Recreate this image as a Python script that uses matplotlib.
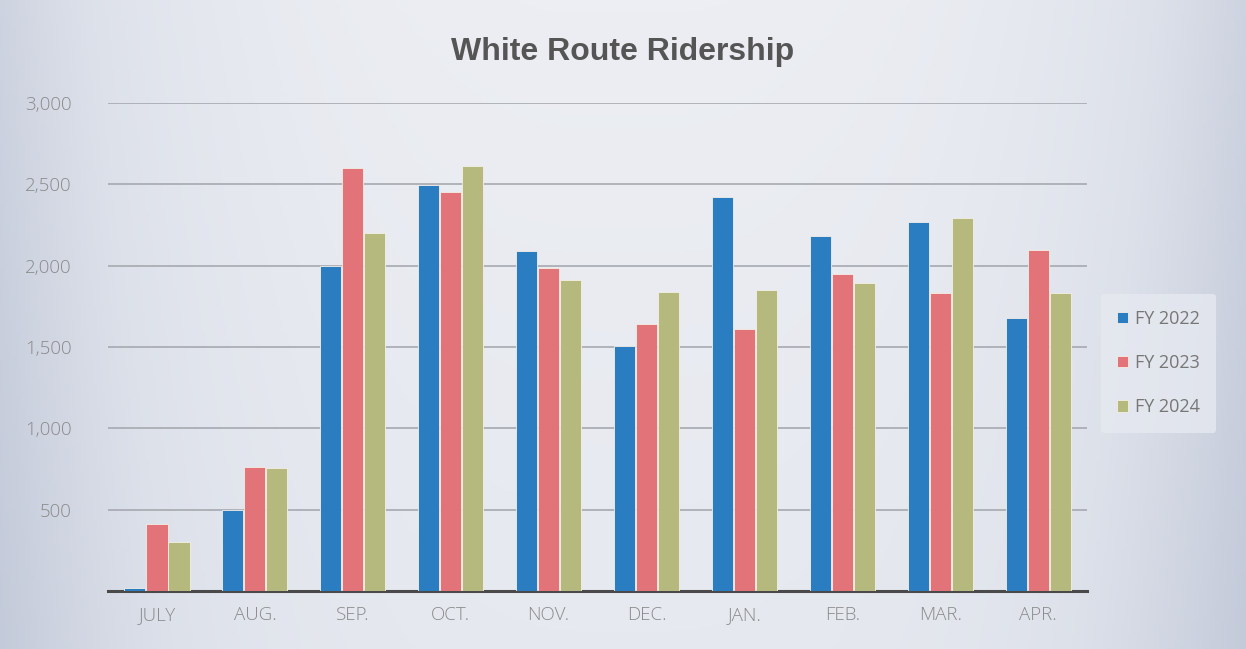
import numpy as np
import matplotlib.pyplot as plt
from matplotlib.colors import LinearSegmentedColormap

months = ['JULY', 'AUG.', 'SEP.', 'OCT.', 'NOV.', 'DEC.', 'JAN.', 'FEB.', 'MAR.', 'APR.']
fy2022 = [20, 500, 2000, 2495, 2090, 1505, 2420, 2180, 2270, 1680]
fy2023 = [410, 765, 2600, 2450, 1985, 1640, 1610, 1950, 1830, 2095]
fy2024 = [300, 755, 2200, 2615, 1910, 1840, 1850, 1895, 2290, 1830]
series = ['FY 2022', 'FY 2023', 'FY 2024']
colors = ['#2b7dc2', '#e27479', '#b6b97e']

fig = plt.figure(figsize=(12.46, 6.49), dpi=100)
fig.patch.set_facecolor('#e3e6ed')

# soft bluish scanned-looking background
bg = fig.add_axes([0, 0, 1, 1], zorder=-10)
yy, xx = np.mgrid[0:1:200j, 0:1:400j]
shade = (np.abs(xx - 0.5) * 2) ** 3 * 0.8 + 0.2 * yy
cmap = LinearSegmentedColormap.from_list('paper', ['#eceef3', '#dde1ea', '#c3cad9'])
bg.imshow(shade, cmap=cmap, vmin=0, vmax=1, aspect='auto', extent=[0, 1, 0, 1])
bg.axis('off')

ax = fig.add_axes([0.0867, 0.0894, 0.7857, 0.7519])
ax.patch.set_alpha(0)

x = np.arange(len(months))
w = 0.215
for i, (vals, name) in enumerate(zip([fy2022, fy2023, fy2024], series)):
    ax.bar(x + (i - 1) * (w + 0.01), vals, width=w, color=colors[i], label=name,
           edgecolor='#f4efe6', linewidth=0.6, zorder=3)

ax.set_xlim(-0.5, len(months) - 0.5)
ax.set_ylim(0, 3000)
ax.set_yticks([500, 1000, 1500, 2000, 2500, 3000])
ax.set_yticklabels(['500', '1,000', '1,500', '2,000', '2,500', '3,000'])
ax.set_xticks(x)
ax.set_xticklabels(months)
ax.grid(axis='y', color='#a6a9b0', linewidth=1.2, zorder=0)
for s in ['top', 'right', 'left']:
    ax.spines[s].set_visible(False)
ax.spines['bottom'].set_color('#4a4a4a')
ax.spines['bottom'].set_linewidth(2.2)
ax.tick_params(axis='both', length=0, colors='#8a8a8a', labelsize=13.5)
ax.tick_params(axis='y', pad=26)
ax.tick_params(axis='x', pad=11)
for lbl in ax.get_xticklabels() + ax.get_yticklabels():
    lbl.set_fontfamily('Open Sans')
    lbl.set_fontweight('light')

fig.text(0.5, 0.92, 'White Route Ridership', ha='center', va='center',
         fontsize=23, fontweight='bold', color='#555555', family='Liberation Sans')

leg = ax.legend(loc='center left', bbox_to_anchor=(1.005, 0.467), frameon=True,
                handlelength=0.6, handleheight=0.6, handletextpad=0.4,
                labelspacing=1.45, fontsize=13, borderpad=0.9)
leg.get_frame().set_facecolor('#e6e9f0')
leg.get_frame().set_edgecolor('none')
for t in leg.get_texts():
    t.set_color('#777777')
    t.set_fontfamily('Open Sans')

fig.savefig('out.png', dpi=100)
